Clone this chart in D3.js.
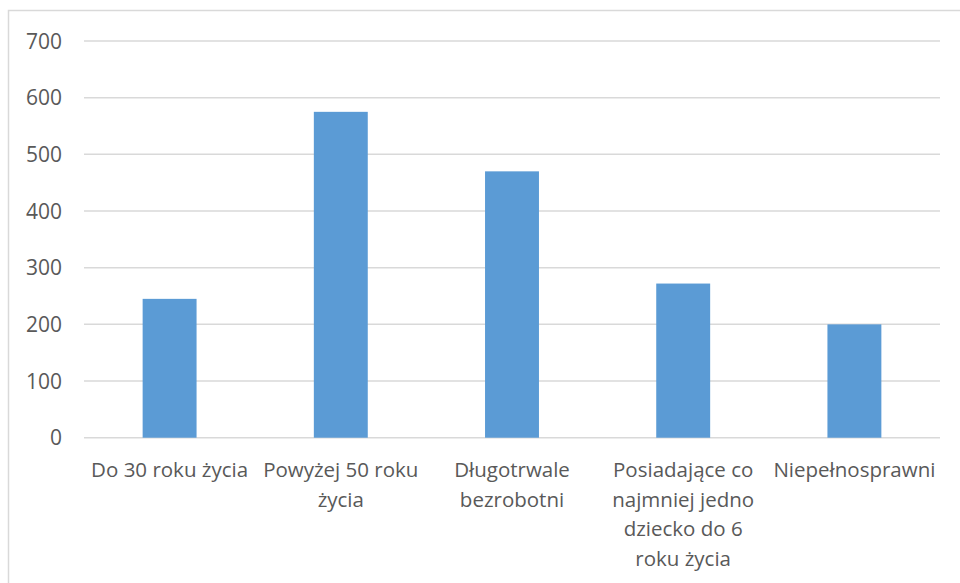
<!DOCTYPE html>
<html>
<head>
<meta charset="utf-8">
<script src="https://cdn.jsdelivr.net/npm/d3@7"></script>
<style>
	body { margin: 0; background: #fff; }
	svg text { font-family: "Open Sans", sans-serif; fill: #595959; }
</style>
</head>
<body>
<svg id="chart"></svg>
<script>
const categories = ["Do 30 roku życia", "Powyżej 50 roku życia", "Długotrwale bezrobotni", "Posiadające co najmniej jedno dziecko do 6 roku życia", "Niepełnosprawni"];
const values = [245, 575, 470, 272, 200];
const yTicks = [0, 100, 200, 300, 400, 500, 600, 700];

const width = 960, height = 583;
const margin = {top: 41, right: 20, bottom: 145, left: 84};

const svg = d3.select("#chart")
		.attr("width", width)
		.attr("height", height);

// chart frame (runs off right and bottom edge)
svg.append("rect")
	.attr("x", 8.5)
	.attr("y", 10.5)
	.attr("width", 1000)
	.attr("height", 700)
	.attr("fill", "none")
	.attr("stroke", "#d9d9d9")
	.attr("stroke-width", 1.5);

const x = d3.scaleBand()
		.domain(categories)
		.range([margin.left, 940])
		.padding(0);

const y = d3.scaleLinear()
		.domain([0, 700])
		.range([height - margin.bottom - 0.3, margin.top]);

const barWidth = x.bandwidth() * 0.315;

// gridlines
svg.append("g")
	.selectAll("line")
	.data(yTicks)
	.enter()
	.append("line")
	.attr("x1", margin.left)
	.attr("x2", 940)
	.attr("y1", d => y(d))
	.attr("y2", d => y(d))
	.attr("stroke", "#d9d9d9")
	.attr("stroke-width", 1.5);

// y labels
svg.append("g")
	.selectAll("text")
	.data(yTicks)
	.enter()
	.append("text")
	.attr("x", 62)
	.attr("y", d => y(d))
	.attr("dy", "0.36em")
	.attr("text-anchor", "end")
	.style("font-size", "21px")
	.text(d => d);

// bars
svg.append("g")
	.selectAll("rect")
	.data(values)
	.enter()
	.append("rect")
	.attr("x", (d, i) => x(categories[i]) + (x.bandwidth() - barWidth) / 2)
	.attr("y", d => y(d))
	.attr("width", barWidth)
	.attr("height", d => y(0) - y(d))
	.attr("fill", "#5b9bd5");

// x labels, wrapped to the band
const labels = svg.append("g")
	.selectAll("text")
	.data(categories)
	.enter()
	.append("text")
	.attr("x", d => x(d) + x.bandwidth() / 2)
	.attr("y", 477)
	.attr("text-anchor", "middle")
	.style("font-size", "20.5px");

labels.each(function(d) {
	const text = d3.select(this);
	const cx = text.attr("x");
	const words = d.split(" ");
	let line = [];
	let tspan = text.append("tspan").attr("x", cx).attr("dy", 0);
	for (let w of words) {
		line.push(w);
		tspan.text(line.join(" "));
		if (tspan.node().getComputedTextLength() > 168 && line.length > 1) {
			line.pop();
			tspan.text(line.join(" "));
			line = [w];
			tspan = text.append("tspan").attr("x", cx).attr("dy", 29.5).text(w);
		}
	}
});
</script>
</body>
</html>
